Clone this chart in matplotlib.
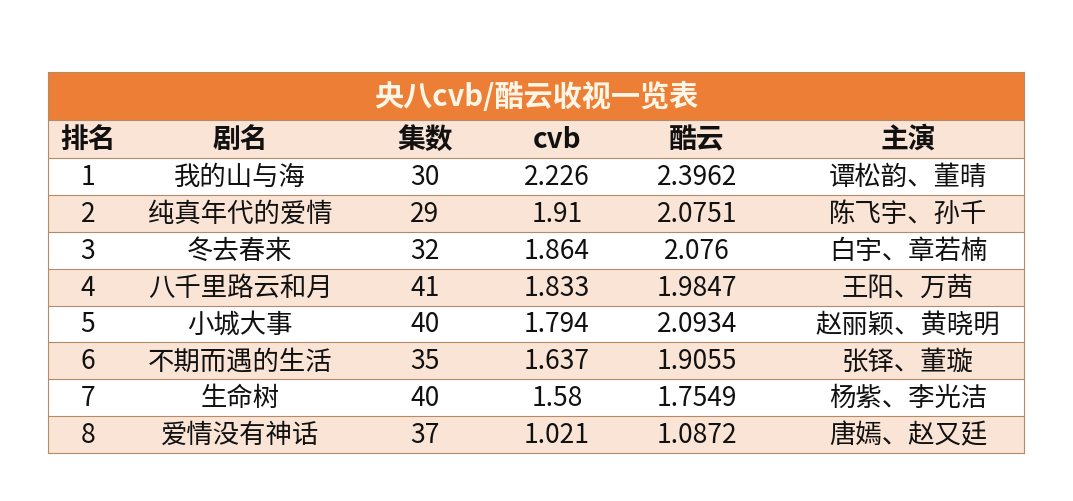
import matplotlib.pyplot as plt
from matplotlib.patches import Rectangle

plt.rcParams['font.family'] = ['Noto Sans CJK SC', 'DejaVu Sans']

title = '央八cvb/酷云收视一览表'
headers = ['排名', '剧名', '集数', 'cvb', '酷云', '主演']
ranks = ['1', '2', '3', '4', '5', '6', '7', '8']
dramas = ['我的山与海', '纯真年代的爱情', '冬去春来', '八千里路云和月', '小城大事',
          '不期而遇的生活', '生命树', '爱情没有神话']
episodes = ['30', '29', '32', '41', '40', '35', '40', '37']
cvb = ['2.226', '1.91', '1.864', '1.833', '1.794', '1.637', '1.58', '1.021']
kuyun = ['2.3962', '2.0751', '2.076', '1.9847', '2.0934', '1.9055', '1.7549', '1.0872']
actors = ['谭松韵、董晴', '陈飞宇、孙千', '白宇、章若楠', '王阳、万茜', '赵丽颖、黄晓明',
          '张铎、董璇', '杨紫、李光洁', '唐嫣、赵又廷']

col_x = [88, 240, 425, 557, 697, 908]
left, right = 48, 1024
title_top, title_bot = 72, 120
head_bot = 158
row_h = (453 - head_bot) / len(ranks)

orange = '#EC7F35'
peach = '#F9E4D6'
line = '#B58A66'

fig = plt.figure(figsize=(10.73, 5.01), dpi=100)
ax = fig.add_axes([0, 0, 1, 1])
ax.set_xlim(0, 1073)
ax.set_ylim(501, 0)
ax.axis('off')

ax.add_patch(Rectangle((left, title_top), right - left, title_bot - title_top,
                       facecolor=orange, edgecolor='none'))
ax.text((left + right) / 2, (title_top + title_bot) / 2 + 1, title, ha='center', va='center',
        fontsize=21, fontweight='bold', color='#FFF6E8')

ax.add_patch(Rectangle((left, title_bot), right - left, head_bot - title_bot,
                       facecolor=peach, edgecolor='none'))
for x, h in zip(col_x, headers):
    ax.text(x, (title_bot + head_bot) / 2 + 1, h, ha='center', va='center',
            fontsize=20, fontweight='bold', color='#111111')

rows = list(zip(ranks, dramas, episodes, cvb, kuyun, actors))
for i, row in enumerate(rows):
    top = head_bot + i * row_h
    fc = 'white' if i % 2 == 0 else peach
    ax.add_patch(Rectangle((left, top), right - left, row_h, facecolor=fc, edgecolor='none'))
    for x, v in zip(col_x, row):
        ax.text(x, top + row_h / 2 + 1, v, ha='center', va='center',
                fontsize=19, color='#111111')

for i in range(len(rows) + 1):
    y = head_bot + i * row_h
    ax.plot([left, right], [y, y], color=line, lw=0.8)
ax.plot([left, right], [title_bot, title_bot], color=line, lw=0.8)
ax.plot([left, right], [title_top, title_top], color=line, lw=0.8)
ax.plot([left, left], [title_top, 453], color=line, lw=0.8)
ax.plot([right, right], [title_top, 453], color=line, lw=0.8)

fig.savefig('out.png', dpi=100)
